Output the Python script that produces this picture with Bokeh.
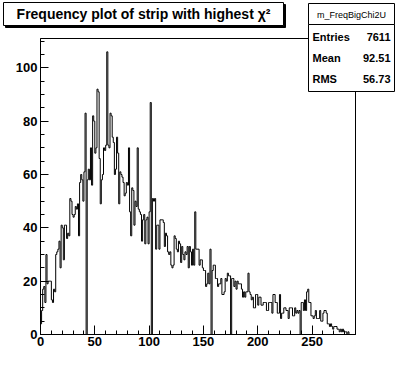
from bokeh.plotting import figure
from bokeh.models import Range1d, FixedTicker, Label, BoxAnnotation
from bokeh.embed import file_html
from bokeh.resources import INLINE

# ---- data ----
counts = [
    4, 9, 17, 18, 12, 30, 19, 20, 20, 20,
    13, 12, 17, 16, 30, 31, 32, 35, 25, 41,
    40, 28, 41, 41, 36, 38, 37, 51, 50, 45,
    44, 45, 48, 47, 49, 37, 57, 60, 58, 50,
    61, 83, 0, 58, 62, 58, 70, 56, 82, 80,
    68, 70, 92, 91, 66, 49, 58, 60, 70, 69,
    71, 106, 71, 70, 83, 82, 74, 72, 60, 62,
    74, 68, 49, 61, 60, 59, 57, 52, 53, 57,
    56, 70, 46, 37, 55, 54, 41, 50, 48, 70,
    47, 46, 45, 35, 43, 45, 34, 43, 44, 34,
    46, 87, 0, 51, 50, 51, 32, 41, 41, 32,
    43, 43, 43, 42, 33, 38, 37, 31, 30, 31,
    26, 25, 26, 37, 36, 32, 31, 35, 34, 27,
    33, 30, 28, 31, 30, 33, 25, 33, 31, 26,
    32, 26, 46, 32, 32, 32, 26, 28, 28, 25,
    24, 24, 18, 19, 23, 19, 32, 0, 24, 26,
    26, 21, 21, 18, 19, 19, 21, 15, 15, 16,
    21, 20, 23, 22, 22, 0, 21, 21, 18, 20,
    17, 20, 19, 19, 19, 17, 14, 16, 14, 16,
    16, 23, 16, 15, 13, 14, 10, 10, 15, 15,
    11, 14, 14, 11, 11, 12, 12, 12, 9, 9,
    12, 12, 12, 8, 15, 15, 12, 12, 8, 8,
    15, 6, 8, 8, 10, 10, 9, 9, 6, 10,
    10, 10, 7, 7, 10, 8, 9, 8, 9, 0,
    12, 12, 9, 13, 9, 16, 17, 12, 12, 7,
    7, 6, 7, 9, 6, 6, 6, 9, 5, 5,
    8, 9, 9, 8, 4, 4, 3, 4, 3, 2,
    3, 3, 3, 2, 2, 1, 2, 1, 2, 1,
    1, 1, 0, 1, 0, 0, 0, 0, 0, 0,
]
x_ticks = [0, 50, 100, 150, 200, 250]
y_ticks = [0, 20, 40, 60, 80, 100]
title_text = "Frequency plot of strip with highest \u03c7\u00b2"
stats_name = "m_FreqBigChi2U"
stats_labels = ["Entries", "Mean", "RMS"]
stats_values = ["7611", "92.51", "56.73"]

X_MAX = 290
Y_MAX = 111

# ---- layout (canvas pixels) ----
W, H = 396, 372
FL, FT, FR, FB = 40, 38, 355, 334   # histogram frame in canvas pixels
FONT = "Liberation Sans"


def dx(cx):
    return (cx - FL) / (FR - FL) * X_MAX


def dy(cy):
    return (FB - cy) / (FB - FT) * Y_MAX


p = figure(width=W, height=H,
           min_border_left=0, min_border_top=0,
           min_border_right=0, min_border_bottom=0,
           x_range=Range1d(dx(0), dx(W)), y_range=Range1d(dy(H), dy(0)),
           output_backend="svg", toolbar_location=None)
p.background_fill_color = "white"
p.border_fill_color = "white"
p.outline_line_color = None
p.grid.visible = False

p.xaxis.fixed_location = 0
p.yaxis.fixed_location = 0
p.xaxis.bounds = (0, X_MAX)
p.yaxis.bounds = (0, Y_MAX)

minor_x = [v for v in range(0, X_MAX + 1, 10)]
minor_y = [v for v in range(0, Y_MAX + 1, 5)]
p.xaxis.ticker = FixedTicker(ticks=x_ticks, minor_ticks=minor_x)
p.yaxis.ticker = FixedTicker(ticks=y_ticks, minor_ticks=minor_y)

for ax in (p.xaxis, p.yaxis):
    ax.axis_line_color = "black"
    ax.major_tick_line_color = "black"
    ax.minor_tick_line_color = "black"
    ax.major_tick_out = 0
    ax.minor_tick_out = 0
    ax.major_label_text_font = FONT
    ax.major_label_text_font_style = "bold"
    ax.major_label_text_font_size = "13px"
    ax.major_label_text_color = "black"
p.xaxis.major_tick_in = 9
p.xaxis.minor_tick_in = 4
p.yaxis.major_tick_in = 8
p.yaxis.minor_tick_in = 4
p.xaxis.major_label_standoff = 2
p.yaxis.major_label_standoff = 3

# histogram frame (top and right edges)
p.add_layout(BoxAnnotation(left=0, right=X_MAX, bottom=0, top=Y_MAX,
                           fill_alpha=0, line_color="black", line_alpha=1,
                           line_width=1))

xs = list(range(len(counts) + 1))
ys = counts + [counts[-1]]
p.step(xs, ys, mode="after", line_color="black", line_width=1)


def box(l, t, r, b, fill="white"):
    p.add_layout(BoxAnnotation(left=dx(l), right=dx(r), top=dy(t), bottom=dy(b),
                               fill_color=fill, fill_alpha=1,
                               line_color="black", line_width=1, line_alpha=1,
                               level="overlay"))


def text(cx, cy, s, size, align="left", style="bold"):
    p.add_layout(Label(x=dx(cx), y=dy(cy), text=s, text_font=FONT,
                       text_font_size=size, text_font_style=style,
                       text_align=align, text_baseline="middle",
                       text_color="black", level="overlay"))


# title box with shadow
box(5, 4, 285, 27, fill="black")
box(3, 2, 283, 25)
text(143, 13.5, title_text, "14px", align="center")

# stats box
box(308, 3, 394, 24)
box(308, 24, 394, 91)
text(351, 14, stats_name, "9px", align="center", style="normal")
for i, (lab, val) in enumerate(zip(stats_labels, stats_values)):
    cy = 36 + 21 * i
    text(312, cy, lab, "11px")
    text(390, cy, val, "11px", align="right")

open("out.html", "w").write(file_html(p, INLINE))
